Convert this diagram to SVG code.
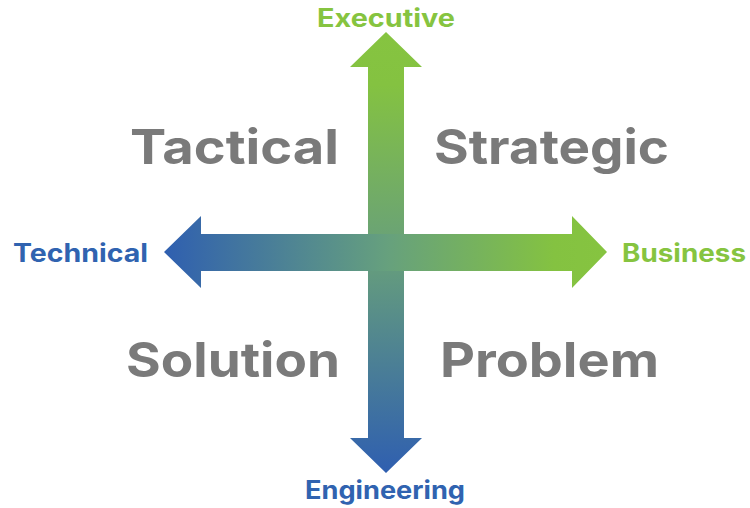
<svg xmlns="http://www.w3.org/2000/svg" width="750" height="508" viewBox="0 0 750 508">
  <style>
    .big { font-family: Inter, "Open Sans", "Liberation Sans", sans-serif; font-weight: 700; font-size: 48px; fill: #7a7a7a; }
    .lbl { font-family: Inter, "Open Sans", "Liberation Sans", sans-serif; font-weight: 700; font-size: 25px; }
    .green { fill: #86c440; }
    .blue { fill: #3063b0; }
  </style>
  <defs>
    <linearGradient id="gv" gradientUnits="userSpaceOnUse" x1="0" y1="32" x2="0" y2="473">
      <stop offset="0" stop-color="#86c440"/>
      <stop offset="0.12" stop-color="#84c241"/>
      <stop offset="0.5" stop-color="#68a07a"/>
      <stop offset="1" stop-color="#2f5fb0"/>
    </linearGradient>
    <linearGradient id="gh" gradientUnits="userSpaceOnUse" x1="164" y1="0" x2="607" y2="0">
      <stop offset="0" stop-color="#2f5fb0"/>
      <stop offset="0.5" stop-color="#66a07e"/>
      <stop offset="0.88" stop-color="#84c241"/>
      <stop offset="1" stop-color="#86c440"/>
    </linearGradient>
  </defs>
  <g id="connectors">
    <polygon id="vertical-arrow" fill="url(#gv)" points="386,32 422,67 404,67 404,438 422,438 386,473 350,438 368,438 368,67 350,67"/>
    <polygon id="horizontal-arrow" fill="url(#gh)" points="164,252 201,216 201,234 572,234 572,216 607,252 572,288 572,271 201,271 201,288"/>
  </g>
  <g id="executive"><text class="lbl green" x="317" y="27" textLength="138" lengthAdjust="spacingAndGlyphs">Executive</text></g>
  <g id="engineering"><text class="lbl blue" x="305" y="499" textLength="160" lengthAdjust="spacingAndGlyphs">Engineering</text></g>
  <g id="technical"><text class="lbl blue" x="13" y="262" textLength="135" lengthAdjust="spacingAndGlyphs">Technical</text></g>
  <g id="business"><text class="lbl green" x="622" y="262" textLength="124" lengthAdjust="spacingAndGlyphs">Business</text></g>
  <g id="tactical"><text class="big" x="130" y="164" textLength="209" lengthAdjust="spacingAndGlyphs">Tactical</text></g>
  <g id="strategic"><text class="big" x="434" y="164" textLength="235" lengthAdjust="spacingAndGlyphs">Strategic</text></g>
  <g id="solution"><text class="big" x="126" y="377" textLength="214" lengthAdjust="spacingAndGlyphs">Solution</text></g>
  <g id="problem"><text class="big" x="440" y="377" textLength="219" lengthAdjust="spacingAndGlyphs">Problem</text></g>
</svg>
